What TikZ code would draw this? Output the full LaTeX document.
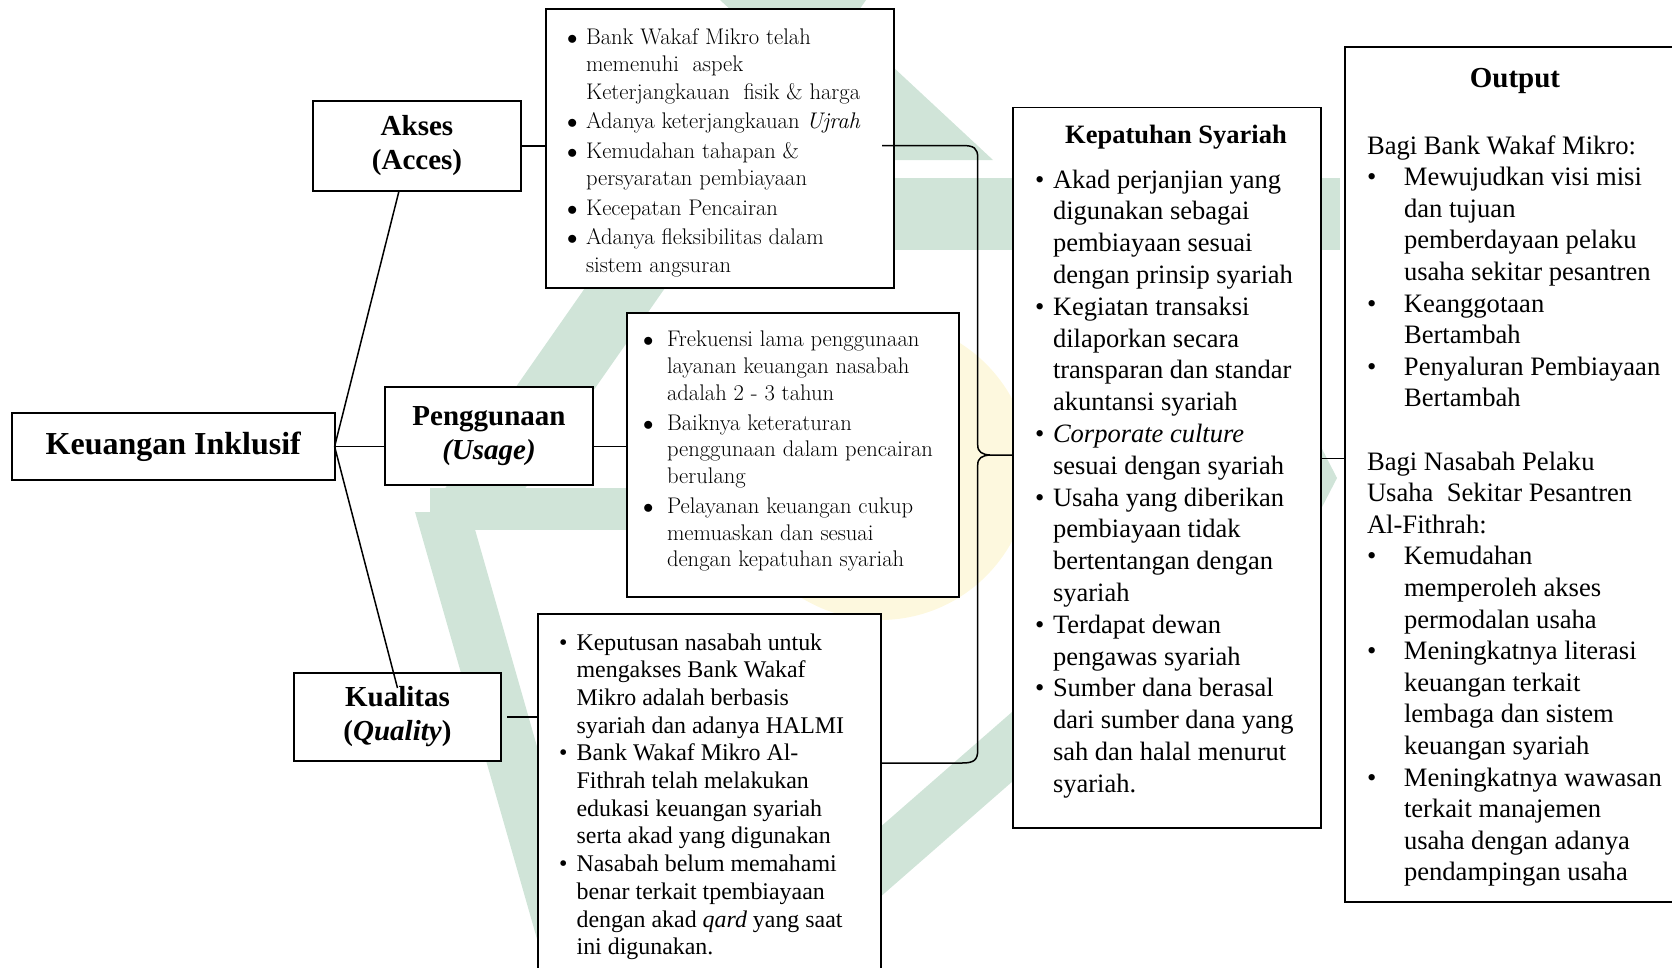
\documentclass[tikz,border=0pt]{standalone}
\usepackage{fontspec}
\newfontfamily\tnr{Liberation Serif}
\usetikzlibrary{calc}
\definecolor{wmg}{RGB}{208,228,216}
\definecolor{wmy}{RGB}{253,248,222}
\tikzset{
  box/.style={draw=black, line width=1.8pt, fill=white, inner sep=0pt, outer sep=0pt},
  conn/.style={draw=black, line width=1.5pt},
  txt/.style={inner sep=0pt, outer sep=0pt, anchor=base west},
  ttl/.style={align=center, font=\tnr\bfseries\fontsize{29}{34}\selectfont},
  wm/.style={fill=wmg},
}
\newcommand\bl{\textbullet}
\newcommand\mbl{$\bullet$}
\begin{document}
\begin{tikzpicture}[x=1pt,y=-1pt]
\useasboundingbox (0,0) rectangle (1672,967);
% faint watermark
\fill[wmy] (880,470) circle [radius=150pt];
\fill[wm] (720,0) -- (821,0) -- (993,160) -- (893,160) -- cycle;
\fill[wm] (600,178) rectangle (1340,250);
\fill[wm] (430,510) -- (800,-20) -- (880,-20) -- (510,510) -- cycle;
\fill[wm] (430,488) rectangle (626,530);
\fill[wm] (415,512) -- (470,512) -- (600,967) -- (545,967) -- cycle;
\fill[wm] (720,967) -- (1020,705) -- (1100,705) -- (800,967) -- cycle;
\fill[wm] (1320,445) -- (1337,478) -- (1320,511) -- cycle;

% left boxes
\node[box, minimum width=322.6pt, minimum height=67pt, font=\tnr\bfseries\fontsize{32}{38}\selectfont] (kin) at (173.3,446.5) {Keuangan Inklusif};
\node[box, ttl, minimum width=208pt, minimum height=90pt] (akses) at (417,146) {Akses\\(Acces)};
\node[box, ttl, minimum width=208pt, minimum height=98pt] (peng) at (489,436) {Penggunaan\\\textit{(Usage)}};
\node[box, ttl, minimum width=207pt, minimum height=88pt] (qual) at (397.5,717) {Kualitas\\(\textit{Quality})};

% list boxes
\node[box, minimum width=348pt, minimum height=279pt, anchor=north west] (akl) at (546,9.3) {};
\node[box, minimum width=332pt, minimum height=284pt, anchor=north west] (usl) at (627,313) {};
\node[box, minimum width=343pt, minimum height=380pt, anchor=north west] (qll) at (538,614) {};
\node[box, minimum width=308pt, minimum height=720.5pt, anchor=north west] (kep) at (1013,107.5) {};
\node[box, minimum width=345pt, minimum height=855pt, anchor=north west] (out) at (1345,47) {};

% texts
\node[txt] (aklt) at (567,44) {\fontsize{22.6}{27.5}\selectfont
\begin{tabular}[t]{@{}p{19pt}@{}l@{}}
\mbl & Bank Wakaf Mikro telah\\
 & memenuhi\ \ aspek\\
 & Keterjangkauan\ \ fisik \& harga\\[2pt]
\mbl & Adanya keterjangkauan \textit{Ujrah}\\[2pt]
\mbl & Kemudahan tahapan \&\\
 & persyaratan pembiayaan\\[2pt]
\mbl & Kecepatan Pencairan\\[2pt]
\mbl & Adanya fleksibilitas dalam\\
 & sistem angsuran
\end{tabular}};

\node[txt] (uslt) at (643,346.7) {\fontsize{22.6}{26.7}\selectfont
\begin{tabular}[t]{@{}p{24pt}@{}l@{}}
\mbl & Frekuensi lama penggunaan\\
 & layanan keuangan nasabah\\
 & adalah 2 - 3 tahun\\[3.3pt]
\mbl & Baiknya keteraturan\\
 & penggunaan dalam pencairan\\
 & berulang\\[3.3pt]
\mbl & Pelayanan keuangan cukup\\
 & memuaskan dan sesuai\\
 & dengan kepatuhan syariah
\end{tabular}};

\node[txt] (qllt) at (559,650) {\tnr\fontsize{23.9}{27.7}\selectfont
\begin{tabular}[t]{@{}p{17.6pt}@{}l@{}}
\bl & Keputusan nasabah untuk\\
 & mengakses Bank Wakaf\\
 & Mikro adalah berbasis\\
 & syariah dan adanya HALMI\\
\bl & Bank Wakaf Mikro Al-\\
 & Fithrah telah melakukan\\
 & edukasi keuangan syariah\\
 & serta akad yang digunakan\\
\bl & Nasabah belum memahami\\
 & benar terkait tpembiayaan\\
 & dengan akad \textit{qard} yang saat\\
 & ini digunakan.
\end{tabular}};

\node[inner sep=0pt, anchor=base, font=\tnr\bfseries\fontsize{26.5}{30}\selectfont] (kept) at (1176,143) {Kepatuhan Syariah};
\node[txt] (kepl) at (1035,188) {\tnr\fontsize{26.5}{31.8}\selectfont
\begin{tabular}[t]{@{}p{18pt}@{}l@{}}
\bl & Akad perjanjian yang\\
 & digunakan sebagai\\
 & pembiayaan sesuai\\
 & dengan prinsip syariah\\
\bl & Kegiatan transaksi\\
 & dilaporkan secara\\
 & transparan dan standar\\
 & akuntansi syariah\\
\bl & \textit{Corporate culture}\\
 & sesuai dengan syariah\\
\bl & Usaha yang diberikan\\
 & pembiayaan tidak\\
 & bertentangan dengan\\
 & syariah\\
\bl & Terdapat dewan\\
 & pengawas syariah\\
\bl & Sumber dana berasal\\
 & dari sumber dana yang\\
 & sah dan halal menurut\\
 & syariah.
\end{tabular}};

\node[inner sep=0pt, anchor=base, font=\tnr\bfseries\fontsize{29}{34}\selectfont] (outt) at (1515,87) {Output};
\node[txt] (outl) at (1367,154) {\tnr\fontsize{26.6}{31.6}\selectfont
\begin{tabular}[t]{@{}p{37pt}@{}l@{}}
\multicolumn{2}{@{}l@{}}{Bagi Bank Wakaf Mikro:}\\
\bl & Mewujudkan visi misi\\
 & dan tujuan\\
 & pemberdayaan pelaku\\
 & usaha sekitar pesantren\\
\bl & Keanggotaan\\
 & Bertambah\\
\bl & Penyaluran Pembiayaan\\
 & Bertambah\\
 & \\
\multicolumn{2}{@{}l@{}}{Bagi Nasabah Pelaku}\\
\multicolumn{2}{@{}l@{}}{Usaha\ \ Sekitar Pesantren}\\
\multicolumn{2}{@{}l@{}}{Al-Fithrah:}\\
\bl & Kemudahan\\
 & memperoleh akses\\
 & permodalan usaha\\
\bl & Meningkatnya literasi\\
 & keuangan terkait\\
 & lembaga dan sistem\\
 & keuangan syariah\\
\bl & Meningkatnya wawasan\\
 & terkait manajemen\\
 & usaha dengan adanya\\
 & pendampingan usaha
\end{tabular}};

% connectors
\draw[conn] (kin.east) -- ($(akses.south)+(-18,0)$);
\draw[conn] (kin.east) -- (kin.east -| peng.west);
\draw[conn] (kin.east) -- ($(qual.north)+(0,15)$);
\draw[conn] (akses.east) -- (akses.east -| akl.west);
\draw[conn] (peng.east |- kin.east) -- (kin.east -| usl.west);
\draw[conn] ($(qual.east)+(6,0)$) -- (qual.east -| qll.west);

\coordinate (brt) at (882,145.5);
\coordinate (brb) at (881,763);
\coordinate (brtip) at (kep.west |- 0,455);
\draw[conn] (brt) -- (962,145.5) .. controls (974,145.5) and (977.7,148) .. (977.7,158)
  -- (977.7,445) .. controls (977.7,452) and (982,454.5) .. (990,455) -- (brtip);
\draw[conn] (990,455) .. controls (982,455.5) and (977.7,458) .. (977.7,465)
  -- (977.7,750) .. controls (977.7,760) and (974,763) .. (962,763) -- (brb);
\draw[conn] ($(kep.east)+(0,-9.5)$) coordinate (ko) -- (ko -| out.west);
\end{tikzpicture}
\end{document}
